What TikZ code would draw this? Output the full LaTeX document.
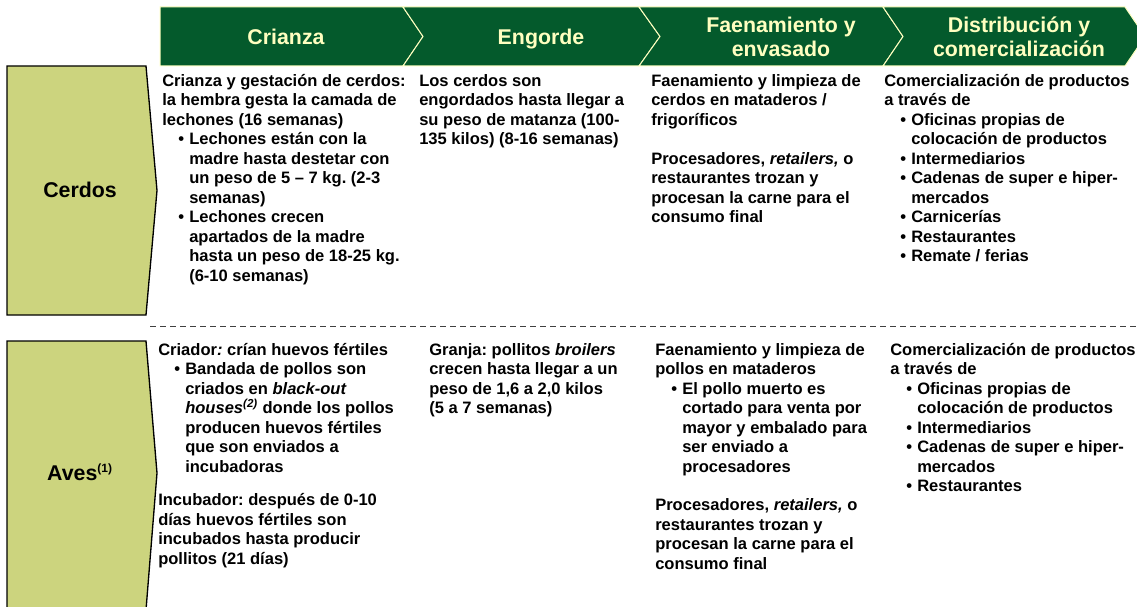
\documentclass[tikz,border=0pt]{standalone}
\usepackage{fontspec}
\setmainfont{Liberation Sans}
\usepackage{xcolor}
\usepackage{tikz}
\usetikzlibrary{
	positioning,						% Relative positioning
	calc								% Calculate point coordinates
}
\definecolor{bandgreen}{HTML}{045A2C}
\definecolor{bandtext}{HTML}{FFFFC0}
\definecolor{labelfill}{HTML}{CCD47E}
\newcommand{\itm}{\hspace*{12pt}\makebox[8.25pt][l]{\textbullet}}
\newcommand{\cont}{\hspace*{20.25pt}}
\frenchspacing

\begin{document}
\begin{tikzpicture}
		[
		,x=0.75pt
		,y=-0.75pt
		,chevron/.style = {
			,fill=bandgreen
			,draw=bandtext
			,line width=0.75pt}
		,head/.style = {
			,text=bandtext
			,font=\fontsize{16}{18}\selectfont\bfseries
			,align=center
			,inner sep=0pt}
		,rowbox/.style = {
			,fill=labelfill
			,draw=black
			,line width=1pt}
		,rowlabel/.style = {
			,font=\fontsize{16}{18}\selectfont\bfseries
			,anchor=base
			,inner sep=0pt}
		,cell/.style = {
			,anchor=north west
			,align=left
			,inner sep=0pt
			,font=\fontsize{12.4}{14.6}\selectfont\bfseries\frenchspacing
			,execute at begin node={\rule{0pt}{12pt}}}
		,divider/.style = {
			,draw=black!75
			,line width=0.75pt
			,dash pattern=on 4.5pt off 3pt}
		]
		\useasboundingbox (0,0) rectangle (1137,606);

		% Stage band
		\path[chevron] (160,7) -- (403,7) -- (423,36.5) -- (403,66) -- (160,66) -- cycle;
		\path[chevron] (403,7) -- (639,7) -- (660,36.5) -- (639,66) -- (403,66) -- (423,36.5) -- cycle;
		\path[chevron] (639,7) -- (883,7) -- (903,36.5) -- (883,66) -- (639,66) -- (660,36.5) -- cycle;
		\path[chevron] (883,7) -- (1125,7) -- (1145,36.5) -- (1125,66) -- (883,66) -- (903,36.5) -- cycle;

		\node[head, anchor=base] (crianza)  at (286,45)  {Crianza};
		\node[head, anchor=base] (engorde)  at (541,45)  {Engorde};
		\node[head]              (faena)    at (781,37)  {Faenamiento y\\envasado};
		\node[head]              (distrib)  at (1019,37) {Distribución y\\comercialización};

		% Row labels
		\path[rowbox] (7,66) -- (146,66) -- (157,190.5) -- (146,315) -- (7,315) -- cycle;
		\path[rowbox] (7,341) -- (146,341) -- (157,473) -- (146,610) -- (7,610) -- cycle;

		\node[rowlabel] (cerdos) at (80,197.5) {Cerdos};
		\node[rowlabel] (aves)   at (80,480.5) {Aves\textsuperscript{\fontsize{9}{10}\selectfont(1)}};

		% Divider
		\coordinate (divl) at (150,326);
		\coordinate (divr) at (1137,326);
		\draw[divider] (divl) -- (divr);

		% Cerdos row
		\node[cell] (cerdoscria) at (162,74) {Crianza y gestación de cerdos:\\la hembra gesta la camada de\\lechones (16 semanas)\\\itm Lechones están con la\\\cont madre hasta destetar con\\\cont un peso de 5 – 7 kg. (2-3\\\cont semanas)\\\itm Lechones crecen\\\cont apartados de la madre\\\cont hasta un peso de 18-25 kg.\\\cont (6-10 semanas)};
		\node[cell] (cerdosengo) at (419,74) {Los cerdos son\\engordados hasta llegar a\\su peso de matanza (100-\\135 kilos) (8-16 semanas)};
		\node[cell] (cerdosfaen) at (651,74) {Faenamiento y limpieza de\\cerdos en mataderos /\\frigoríficos\\[14.6pt]Procesadores, \textit{retailers,} o\\restaurantes trozan y\\procesan la carne para el\\consumo final};
		\node[cell] (cerdosdist) at (884,74) {Comercialización de productos\\a través de\\\itm Oficinas propias de\\\cont colocación de productos\\\itm Intermediarios\\\itm Cadenas de super e hiper-\\\cont mercados\\\itm Carnicerías\\\itm Restaurantes\\\itm Remate / ferias};

		% Aves row
		\node[cell] (avescria) at (158,343) {Criador\textit{:} crían huevos fértiles\\\itm Bandada de pollos son\\\cont criados en \textit{black-out}\\\cont \textit{houses\textsuperscript{(2)}} donde los pollos\\\cont producen huevos fértiles\\\cont que son enviados a\\\cont incubadoras\\[10.5pt]Incubador: después de 0-10\\días huevos fértiles son\\incubados hasta producir\\pollitos (21 días)};
		\node[cell] (avesengo) at (429,343) {Granja: pollitos \textit{broilers}\\crecen hasta llegar a un\\peso de 1,6 a 2,0 kilos\\(5 a 7 semanas)};
		\node[cell] (avesfaen) at (655,343) {Faenamiento y limpieza de\\pollos en mataderos\\\itm El pollo muerto es\\\cont cortado para venta por\\\cont mayor y embalado para\\\cont ser enviado a\\\cont procesadores\\[14.6pt]Procesadores, \textit{retailers,} o\\restaurantes trozan y\\procesan la carne para el\\consumo final};
		\node[cell] (avesdist) at (890,343) {Comercialización de productos\\a través de\\\itm Oficinas propias de\\\cont colocación de productos\\\itm Intermediarios\\\itm Cadenas de super e hiper-\\\cont mercados\\\itm Restaurantes};
	\end{tikzpicture}
\end{document}
